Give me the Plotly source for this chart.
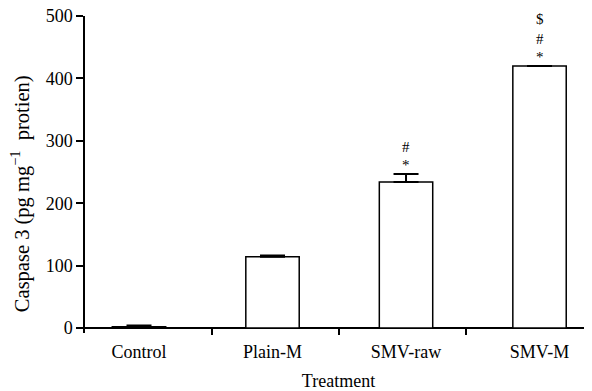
import plotly.graph_objects as go

categories = ["Control", "Plain-M", "SMV-raw", "SMV-M"]
values = [2, 114, 234, 420]
errors = [2, 2, 13, 0]
sig_marks = ["", "", "*<br>#", "*<br>#<br>$"]
boundary_ticks = [0.547, 1.498, 2.449]

FONT = "Liberation Serif"
positions = list(range(len(categories)))

fig = go.Figure()
fig.add_trace(go.Bar(
    x=positions, y=values, width=0.4,
    marker=dict(color="white", line=dict(color="black", width=1.5)),
    error_y=dict(type="data", array=errors, arrayminus=[0]*len(errors), symmetric=False,
                 color="black", thickness=2, width=12.5),
    showlegend=False,
))
fig.add_trace(go.Scatter(x=[boundary_ticks[0]], y=[0], xaxis="x2", mode="markers",
                         marker=dict(opacity=0), showlegend=False, hoverinfo="skip"))

offsets = [9, 27, 47]
for i, (v, e, m) in enumerate(zip(values, errors, sig_marks)):
    if not m:
        continue
    parts = m.split("<br>")
    for k, p in enumerate(parts):
        fig.add_annotation(x=positions[i], y=v + e, text=p, showarrow=False,
                           yanchor="middle", yshift=offsets[k],
                           font=dict(family=FONT, size=15, color="black"))

fig.add_annotation(xref="paper", yref="paper", x=-0.127, y=0.44,
                   text="Caspase 3 (pg mg<sup>\u22121</sup>  protien)", textangle=-90,
                   showarrow=False, xanchor="center", yanchor="middle",
                   font=dict(family=FONT, size=20.5, color="black"))

xr = [-0.4045, 3.393]
fig.update_layout(
    width=584, height=383,
    margin=dict(l=77, r=0, t=8, b=58),
    paper_bgcolor="white", plot_bgcolor="white",
    font=dict(family=FONT, size=18, color="black"),
    xaxis=dict(range=xr, tickvals=positions, ticktext=categories, ticks="",
               showline=False, showgrid=False, zeroline=False, automargin=False,
               ticklabelstandoff=6,
               title=dict(text="Treatment", font=dict(size=18), standoff=18),
               tickfont=dict(size=18)),
    xaxis2=dict(range=xr, overlaying="x", anchor="free", position=5/317, side="bottom",
                tickvals=boundary_ticks, showticklabels=False, ticks="outside",
                ticklen=6, tickwidth=1.5, tickcolor="black", automargin=False,
                showline=False, showgrid=False, zeroline=False),
    yaxis=dict(range=[-8, 500], tickvals=[0, 100, 200, 300, 400, 500], ticks="outside",
               ticklen=7, tickwidth=1.5, tickcolor="black", automargin=False,
               ticklabeloverflow="allow",
               showline=True, linecolor="black", linewidth=1.5, showgrid=False,
               zeroline=True, zerolinecolor="black", zerolinewidth=1.5,
               tickfont=dict(size=18)),
)
fig.write_html("out.html")
